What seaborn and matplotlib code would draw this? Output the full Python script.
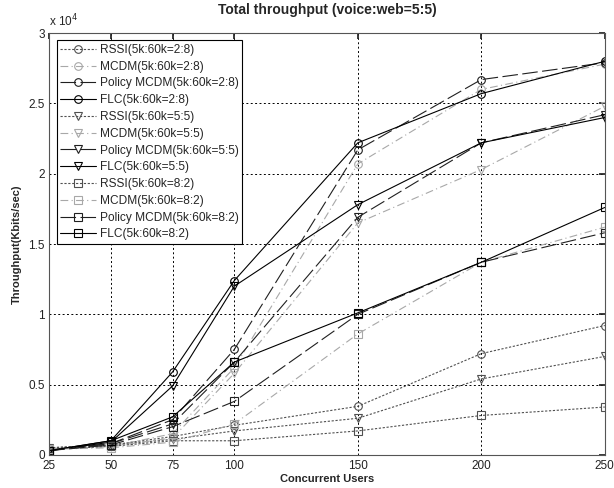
import matplotlib
matplotlib.use("Agg")
import matplotlib.pyplot as plt
import seaborn as sns
from matplotlib.ticker import FuncFormatter

users = [25, 50, 75, 100, 150, 200, 250]

# throughput in Kbits/sec
rssi_28 = [500, 700, 1300, 2100, 3450, 7200, 9200]
mcdm_28 = [400, 600, 1500, 6200, 20700, 26000, 27800]
policy_28 = [300, 800, 2500, 7500, 21700, 26700, 27900]
flc_28 = [300, 1000, 5900, 12400, 22200, 25700, 28000]

rssi_55 = [500, 700, 1100, 1700, 2600, 5400, 7000]
mcdm_55 = [400, 600, 1200, 5800, 16500, 20300, 24800]
policy_55 = [300, 800, 2200, 6600, 16900, 22200, 24200]
flc_55 = [300, 900, 4900, 12000, 17800, 22200, 24000]

rssi_82 = [400, 600, 1000, 1000, 1700, 2800, 3400]
mcdm_82 = [400, 500, 900, 2200, 8600, 13700, 16200]
policy_82 = [300, 700, 2000, 3800, 10000, 13700, 15800]
flc_82 = [300, 1000, 2700, 6600, 10100, 13700, 17600]

series = [
    ("RSSI(5k:60k=2:8)", rssi_28, "o", "rssi"),
    ("MCDM(5k:60k=2:8)", mcdm_28, "o", "mcdm"),
    ("Policy MCDM(5k:60k=2:8)", policy_28, "o", "policy"),
    ("FLC(5k:60k=2:8)", flc_28, "o", "flc"),
    ("RSSI(5k:60k=5:5)", rssi_55, "v", "rssi"),
    ("MCDM(5k:60k=5:5)", mcdm_55, "v", "mcdm"),
    ("Policy MCDM(5k:60k=5:5)", policy_55, "v", "policy"),
    ("FLC(5k:60k=5:5)", flc_55, "v", "flc"),
    ("RSSI(5k:60k=8:2)", rssi_82, "s", "rssi"),
    ("MCDM(5k:60k=8:2)", mcdm_82, "s", "mcdm"),
    ("Policy MCDM(5k:60k=8:2)", policy_82, "s", "policy"),
    ("FLC(5k:60k=8:2)", flc_82, "s", "flc"),
]

styles = {
    "rssi": dict(color="#505050", linestyle=(0, (2, 1.5))),
    "mcdm": dict(color="#a8a8a8", linestyle=(0, (7, 3, 1, 3))),
    "policy": dict(color="#202020", linestyle=(0, (14, 4))),
    "flc": dict(color="black", linestyle="-"),
}

sns.set_theme(style="white")
plt.rcParams["font.family"] = ["Liberation Sans", "DejaVu Sans"]

fig = plt.figure(figsize=(6.14, 4.88), dpi=100)
ax = fig.add_axes([0.080, 0.068, 0.905, 0.864])

for label, vals, marker, kind in series:
    st = styles[kind]
    sns.lineplot(x=users, y=vals, ax=ax, label=label, marker=marker,
                 markersize=5.5, markerfacecolor="none", markeredgecolor=st["color"],
                 markeredgewidth=0.8, color=st["color"], linestyle=st["linestyle"],
                 linewidth=0.8)

ax.set_xlim(25, 250)
ax.set_ylim(0, 30000)
ax.set_xticks(users)
ax.set_yticks([0, 5000, 10000, 15000, 20000, 25000, 30000])
ax.yaxis.set_major_formatter(FuncFormatter(lambda v, p: f"{v / 1e4:g}"))
ax.tick_params(direction="in", length=4, top=True, right=True, labelsize=8.5,
               colors="#222222", pad=3)
ax.tick_params(axis="x", pad=4)
ax.grid(True, color="black", linestyle=(0, (2, 2.5)), linewidth=0.7)
for sp in ax.spines.values():
    sp.set_color("#555555")
    sp.set_linewidth(0.8)

ax.set_title("Total throughput (voice:web=5:5)", fontsize=10, fontweight="bold", pad=14)
ax.set_xlabel("Concurrent Users", fontsize=8, fontweight="bold", labelpad=1)
ax.set_ylabel("Throughput(Kbits/sec)", fontsize=8, fontweight="bold", labelpad=5)
ax.text(0.0, 1.01, "x 10$^4$", transform=ax.transAxes, fontsize=8.5, ha="left", va="bottom")

leg = ax.legend(loc="upper left", bbox_to_anchor=(0.014, 0.983), fontsize=8.6,
                frameon=True, fancybox=False, framealpha=1, edgecolor="black",
                handlelength=3.0, labelspacing=0.4, borderpad=0.3,
                handletextpad=0.3, borderaxespad=0)
leg.get_frame().set_linewidth(0.8)

fig.savefig("out.png", dpi=100)
